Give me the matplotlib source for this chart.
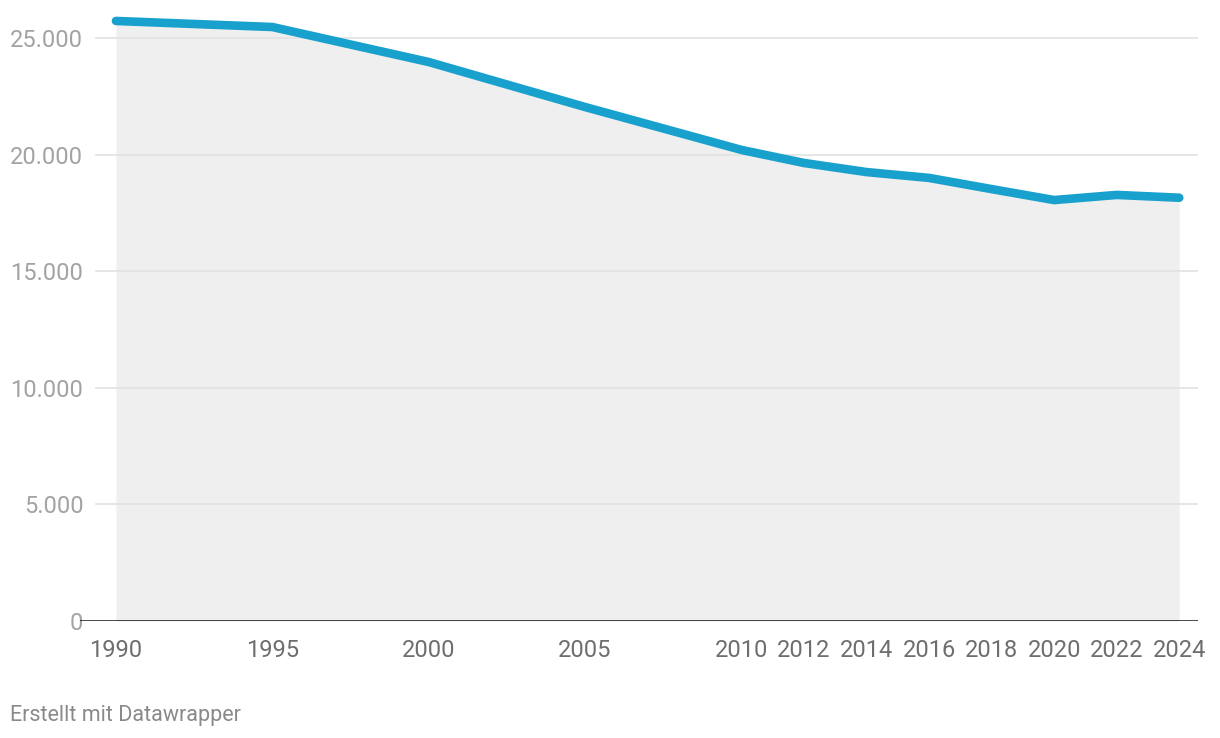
import matplotlib.pyplot as plt

plt.rcParams['font.family'] = ['Roboto', 'DejaVu Sans']

# data
years = [1990, 1995, 2000, 2005, 2010, 2012, 2014, 2016, 2018, 2020, 2022, 2024]
values = [25730, 25470, 23970, 22040, 20200, 19640, 19250, 19000, 18520, 18050, 18270, 18150]
y_ticks = [0, 5000, 10000, 15000, 20000, 25000]
x_ticks = [1990, 1995, 2000, 2005, 2010, 2012, 2014, 2016, 2018, 2020, 2022, 2024]

line_color = '#18a1cd'
fill_color = '#efefef'

fig = plt.figure(figsize=(12.2, 7.38), dpi=100)
ax = fig.add_axes([80 / 1220, 117 / 738, 1118 / 1220, 618 / 738])
ax.set_xlim(1988.85, 2024.6)
ax.set_ylim(0, 26500)
for s in ax.spines.values():
    s.set_visible(False)

# gridlines (start a bit right of the axis start)
for t in y_ticks[1:]:
    ax.axhline(t, xmin=16 / 1118, xmax=1, color='#e2e2e2', lw=1.2, zorder=1)

ax.fill_between(years, values, 0, color=fill_color, lw=0, zorder=0)
ax.plot(years, values, color=line_color, lw=6.2, solid_capstyle='round',
        solid_joinstyle='round', zorder=3)
ax.axhline(0, color='#111111', lw=1.8, zorder=4)

# y labels
ax.set_yticks([])
trans = ax.get_yaxis_transform()
for t in y_ticks:
    lbl = f'{t:,}'.replace(',', '.')
    ax.text(0.003, t, lbl, transform=trans, ha='right', va='center_baseline',
            fontsize=17, color='#a3a3a3')

# x labels
ax.set_xticks(x_ticks)
ax.set_xticklabels([str(x) for x in x_ticks], fontsize=17, color='#6e6e6e')
ax.tick_params(axis='x', length=0, pad=13)

fig.text(10 / 1220, 1 - 715 / 738, 'Erstellt mit Datawrapper', fontsize=15.5,
         color='#8a8a8a', ha='left', va='center')

fig.savefig('out.png', dpi=100)
